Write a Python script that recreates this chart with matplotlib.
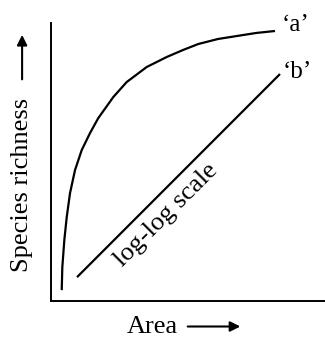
import matplotlib
matplotlib.use('Agg')
import matplotlib.pyplot as plt

# species-area curve 'a' (arbitrary units)
area_a = [10.7, 11.3, 13.3, 15.7, 19, 24, 30.7, 39, 47.3, 62.3, 75.7, 95.7, 115.7, 132, 147.3, 167, 186, 205, 224]
rich_a = [11, 34, 61, 84, 108, 131, 151, 168, 183, 204, 219, 234, 244, 251, 257, 262, 265, 268, 270]

# log-log straight line 'b'
area_b = [26, 229]
rich_b = [24, 227]

labels = ['\u2018a\u2019', '\u2018b\u2019']
label_pos = [(244, 276), (246, 229)]

plt.rcParams['font.family'] = ['Liberation Serif', 'DejaVu Serif']

fig = plt.figure(figsize=(3.25, 3.38), dpi=100)
ax = fig.add_axes([0.157, 0.109, 0.843, 0.823])
ax.plot(area_a, rich_a, color='black', lw=1.6, solid_capstyle='butt',
        solid_joinstyle='round')
ax.plot(area_b, rich_b, color='black', lw=1.6, solid_capstyle='butt')

for lab, (x, y) in zip(labels, label_pos):
    ax.text(x, y, lab, fontsize=18, ha='center', va='center')

ax.text(115, 86, 'log-log scale', fontsize=19, rotation=45,
        rotation_mode='anchor', ha='center', va='center')

ax.set_xlim(0, 274)
ax.set_ylim(0, 278)
ax.set_xticks([])
ax.set_yticks([])
for s in ['top', 'right']:
    ax.spines[s].set_visible(False)
for s in ['left', 'bottom']:
    ax.spines[s].set_linewidth(1.4)

########## axis labels with arrows
fig.text(0.068, 0.453, 'Species richness', fontsize=19, rotation=90,
         ha='center', va='center')
fig.patches.append(matplotlib.patches.FancyArrowPatch(
    (0.068, 0.757), (0.068, 0.905), transform=fig.transFigure,
    arrowstyle='-|>', mutation_scale=15, lw=1.5, color='black'))

fig.text(0.468, 0.034, 'Area', fontsize=19, ha='center', va='center')
fig.patches.append(matplotlib.patches.FancyArrowPatch(
    (0.569, 0.034), (0.748, 0.034), transform=fig.transFigure,
    arrowstyle='-|>', mutation_scale=15, lw=1.5, color='black'))

fig.savefig('out.png', dpi=100)
